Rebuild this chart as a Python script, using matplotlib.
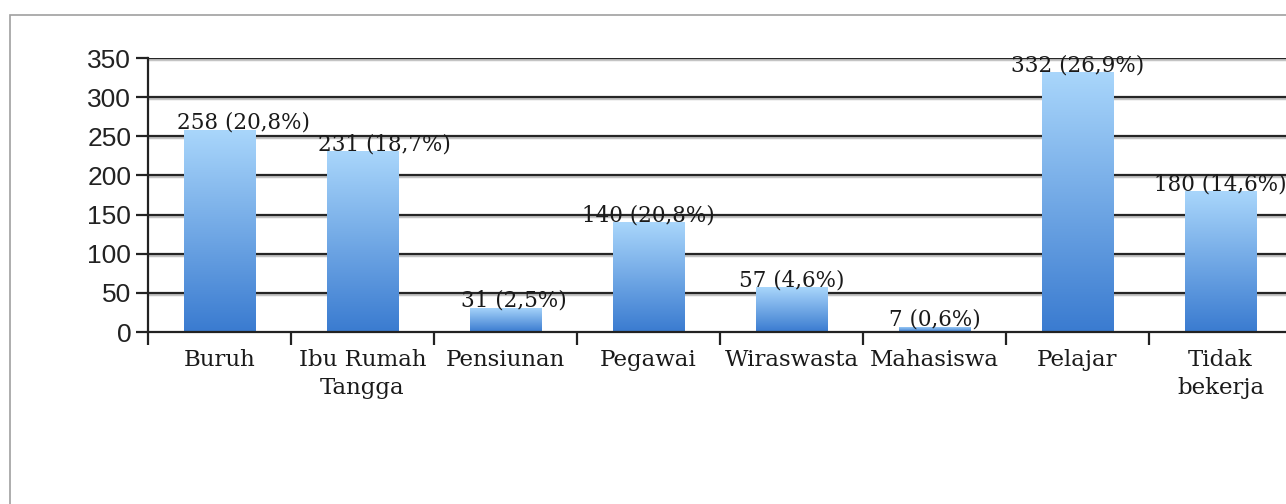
import numpy as np
import matplotlib.pyplot as plt
from matplotlib.patches import Rectangle
from matplotlib.colors import LinearSegmentedColormap

categories = ["Buruh", "Ibu Rumah\nTangga", "Pensiunan", "Pegawai",
              "Wiraswasta", "Mahasiswa", "Pelajar", "Tidak\nbekerja"]
counts = [258, 231, 31, 140, 57, 7, 332, 180]
percents = ["20,8%", "18,7%", "2,5%", "20,8%", "4,6%", "0,6%", "26,9%", "14,6%"]
yticks = [0, 50, 100, 150, 200, 250, 300, 350]

grad = LinearSegmentedColormap.from_list("bar", ["#3a7bd0", "#a9d6fb"])
SERIF = "DejaVu Serif"

fig = plt.figure(figsize=(12.86, 5.04), dpi=100)
fig.patch.set_facecolor("white")

# outer chart frame (cut off at right and bottom)
fig.patches.append(Rectangle((10 / 1286, -0.1), 1.2, 1 - 15 / 504 + 0.1,
                             transform=fig.transFigure, fill=False,
                             edgecolor="#a0a0a0", linewidth=1.2))

ax = fig.add_axes([148 / 1286, 1 - 332 / 504, 1144 / 1286, 274 / 504])
x = np.arange(len(categories))

# gridlines with soft shadow
for v in yticks[1:]:
    ax.axhline(v - 1.2, color="#c4c4c4", linewidth=2.5, zorder=0)
    ax.axhline(v, color="#262626", linewidth=1.6, zorder=0.5)

bars = ax.bar(x, counts, width=0.5, color="none", edgecolor="none", zorder=2)
g = np.linspace(0, 1, 256).reshape(-1, 1)
for b in bars:
    x0, w, h = b.get_x(), b.get_width(), b.get_height()
    im = ax.imshow(g, cmap=grad, origin="lower", aspect="auto",
                   extent=[x0, x0 + w, 0, h], zorder=2)
    im.set_clip_path(b)

# the first two labels sit a bit to the right in the original
shift = [0.17, 0.15, 0.06, 0, 0, 0, 0, 0]
for xi, c, p, s in zip(x, counts, percents, shift):
    ax.text(xi + s, c - 5, f"{c} ({p})", ha="center", va="bottom",
            fontsize=15.5, family=SERIF, color="#1a1a1a", zorder=3)

ax.set_xlim(-0.5, len(categories) - 0.5)
ax.set_ylim(0, 350)

for s in ["top", "right"]:
    ax.spines[s].set_visible(False)
for s in ["left", "bottom"]:
    ax.spines[s].set_color("#222222")
    ax.spines[s].set_linewidth(1.6)

ax.set_yticks(yticks)
ax.set_yticklabels([str(v) for v in yticks], family="Liberation Sans",
                   fontsize=19, color="#222222")
ax.tick_params(axis="y", length=9, width=1.6, color="#222222", pad=3)

ax.set_xticks(np.arange(len(categories) + 1) - 0.5)
ax.set_xticklabels([])
ax.tick_params(axis="x", length=9, width=1.6, color="#222222", direction="out")
for xi, lab in zip(x, categories):
    ax.text(xi, -22, lab, ha="center", va="top", fontsize=16.5,
            family=SERIF, color="#1a1a1a", linespacing=1.35)

fig.savefig("out.png", dpi=100)
